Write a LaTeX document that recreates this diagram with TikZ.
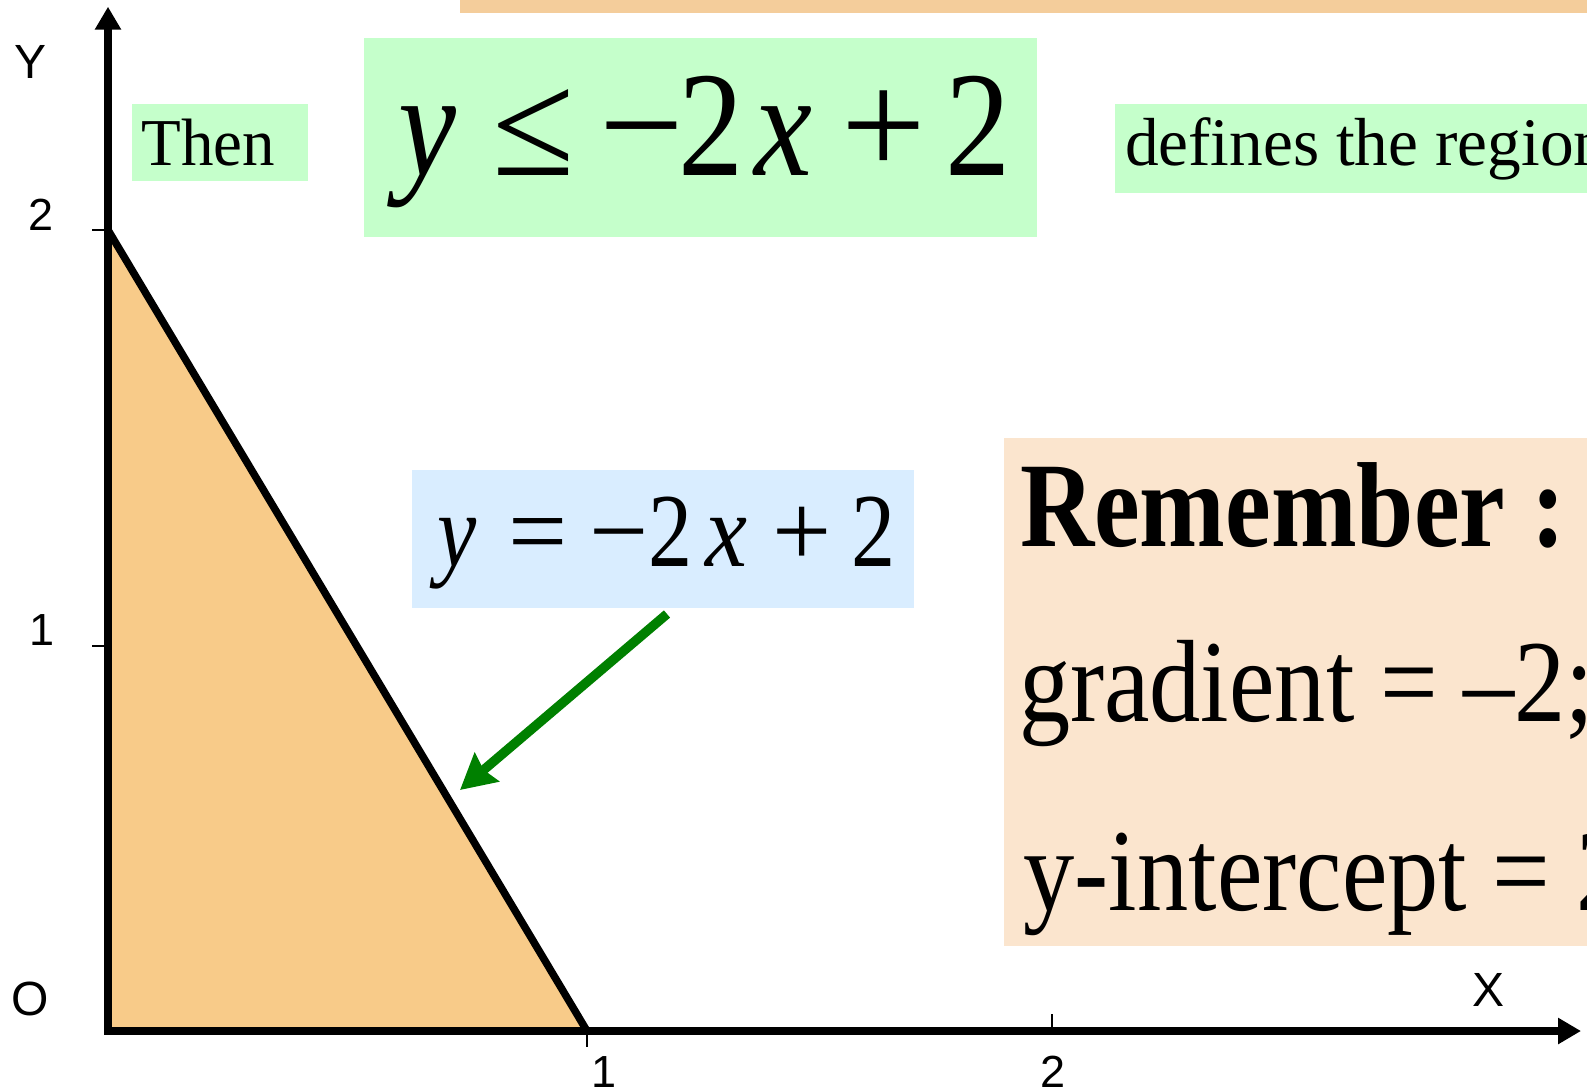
\documentclass[tikz,border=0pt]{standalone}
\usepackage{fontspec}
\setmainfont{Liberation Serif}
\newfontfamily\axfont{Liberation Sans}
\usetikzlibrary{arrows.meta}

\definecolor{notegreen}{RGB}{197,255,203}
\definecolor{noteblue}{RGB}{217,237,255}
\definecolor{notepeach}{RGB}{251,229,206}
\definecolor{barorange}{RGB}{244,205,155}
\definecolor{regionfill}{RGB}{248,203,137}
\definecolor{arrowgreen}{RGB}{0,128,0}

\newcommand{\sqz}[2]{\scalebox{#1}[1]{#2}}

\begin{document}
\begin{tikzpicture}[
  x=1pt, y=-1pt,
  line join=miter,
  axis/.style={
    line width=7.5pt,
    draw=black,
    {Triangle[length=23pt,width=25pt]}-{Triangle[length=23pt,width=25pt]}
  },
  edge/.style={
    line width=7.5pt,
    draw=black
  },
  tick/.style={
    line width=1.6pt,
    draw=black
  },
  axlab/.style={
    font=\axfont\fontsize{45}{48}\selectfont,
    inner sep=0,
    anchor=base
  },
  panel/.style={
    inner sep=0,
    outer sep=0,
    anchor=north west
  },
  txt/.style={
    inner sep=0,
    outer sep=0,
    anchor=base west
  },
  pointer/.style={
    -{Stealth[length=35pt,width=37pt,inset=4pt]},
    line width=9.5pt,
    draw=arrowgreen
  }
]

\path[use as bounding box, clip] (0,0) rectangle (1587,1090);

% Axes points
\coordinate (orig) at (108,1031);
\coordinate (ytop) at (108,6.7);
\coordinate (xend) at (1581,1031);
\coordinate (yint) at (108,230);
\coordinate (xint) at (587,1031);

% Shaded region
\fill[regionfill] (yint) -- (orig) -- (xint) -- cycle;
\draw[edge] (yint) -- (xint);

% Axes and ticks
\draw[axis] (ytop) -- (orig) -- (xend);

\draw[tick] (92,230) -- (108,230);
\draw[tick] (92,645.7) -- (108,645.7);
\draw[tick] (587,1031) -- (587,1047);
\draw[tick] (1052,1014) -- (1052,1031);

\node[axlab, font=\axfont\fontsize{48}{50}\selectfont] (ylab) at (31,78) {Y};
\node[axlab] (ytwo) at (40.8,230) {2};
\node[axlab] (yone) at (41.6,645.5) {1};
\node[axlab, font=\axfont\fontsize{48}{50}\selectfont] (olab) at (30.5,1015) {O};
\node[axlab] (xone) at (604.5,1087) {1};
\node[axlab] (xtwo) at (1052.6,1087) {2};
\node[axlab, font=\axfont\fontsize{48}{50}\selectfont] (xlab) at (1488,1006.5) {X};

% Boxes
\node[panel, fill=barorange, minimum width=1140pt, minimum height=33pt] (topbar) at (460,-20) {};
\node[panel, fill=notegreen, minimum width=176pt, minimum height=77pt] (thenbox) at (132,104) {};
\node[panel, fill=notegreen, minimum width=672.7pt, minimum height=198.4pt] (ineqbox) at (364,38.3) {};
\node[panel, fill=notegreen, minimum width=485pt, minimum height=88.7pt] (regionbox) at (1115,104) {};
\node[panel, fill=noteblue, minimum width=501.7pt, minimum height=138.3pt] (linebox) at (412.3,470) {};
\node[panel, fill=notepeach, minimum width=596pt, minimum height=508pt] (rembox) at (1004,438) {};

% Texts
\node[txt, font=\fontsize{67}{70}\selectfont] (then) at (141.3,165.7) {\sqz{.97}{Then}};

\node[txt, font=\fontsize{150}{155}\selectfont] (ineq) at (398,175)
  {\sqz{.87}{\itshape y}\kern37pt≤\kern24.6pt−\kern-5.6pt\sqz{.87}{2}\kern10.75pt\sqz{.87}{\itshape x}\kern29.1pt+\kern19.4pt\sqz{.87}{2}};

\node[txt, font=\fontsize{68}{70}\selectfont] (region) at (1125,165) {\sqz{.99}{defines the region}};

\node[txt, font=\fontsize{105}{110}\selectfont] (lineeq) at (437,566)
  {\sqz{.84}{\itshape y}\kern32.2pt=\kern21.9pt−\kern0pt\sqz{.84}{2}\kern12.5pt\sqz{.9}{\itshape x}\kern25.2pt+\kern20pt\sqz{.84}{2}};

\node[txt, font=\bfseries\fontsize{121}{125}\selectfont] (remtitle) at (1020,546) {\sqz{.85}{Remember :}};
\node[txt, font=\fontsize{117}{120}\selectfont] (gradline) at (1019,721.7) {\sqz{.875}{gradient = –2;}};
\node[txt, font=\fontsize{117}{120}\selectfont] (intline) at (1023.6,910) {\sqz{.875}{y-intercept = 2}};

% Pointer to the boundary line
\coordinate (tip) at (460,790);
\draw[pointer] ([xshift=3.85pt,yshift=-5.7pt]linebox.south) -- (tip);

\end{tikzpicture}
\end{document}
